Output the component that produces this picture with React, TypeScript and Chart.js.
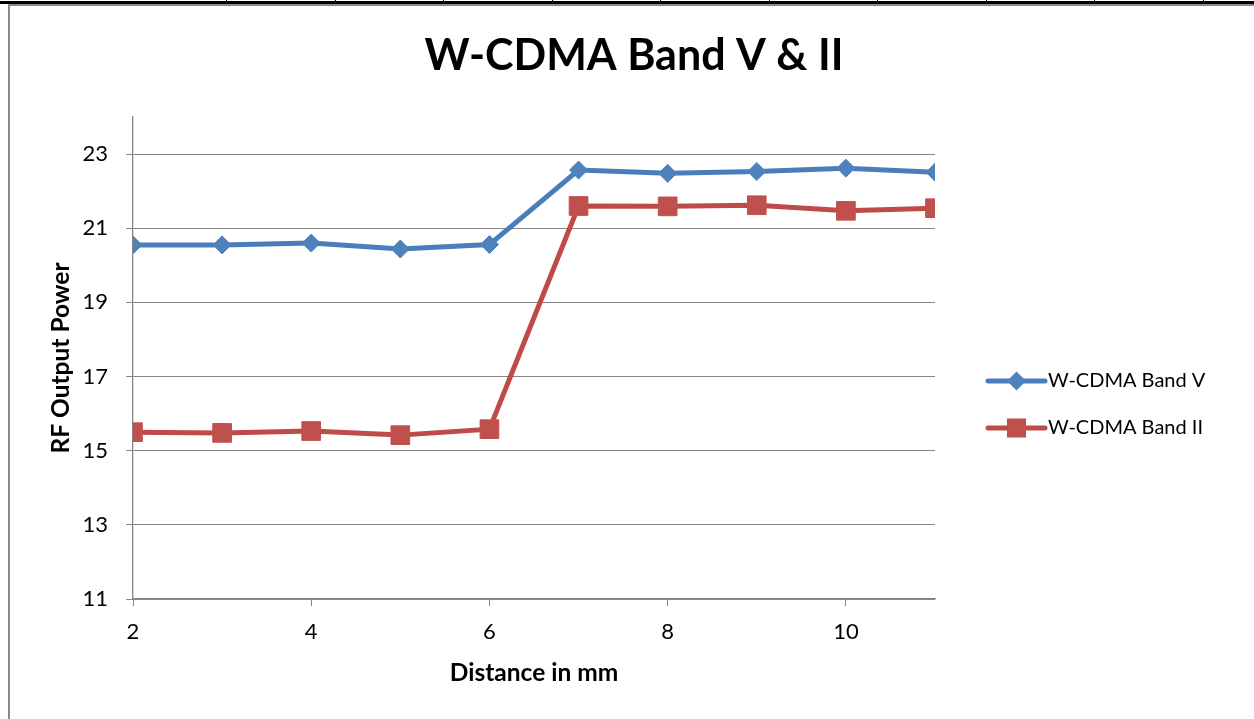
import React, { useEffect, useRef } from "react";
import { Chart, registerables } from "chart.js";

Chart.register(...registerables);

const TITLE = "W-CDMA Band V & II";
const X_TITLE = "Distance in mm";
const Y_TITLE = "RF Output Power";
const distances = [2, 3, 4, 5, 6, 7, 8, 9, 10, 11];
const bandV = [20.55, 20.55, 20.6, 20.44, 20.56, 22.57, 22.48, 22.53, 22.62, 22.51];
const bandII = [15.5, 15.48, 15.53, 15.42, 15.58, 21.6, 21.59, 21.62, 21.47, 21.54];
const seriesNames = ["W-CDMA Band V", "W-CDMA Band II"];
const xTicks = [2, 4, 6, 8, 10];
const yTicks = [11, 13, 15, 17, 19, 21, 23];
const topTicks = [226, 335, 443, 552, 660, 769, 877, 986, 1094, 1203];

const FONT = "Lato, 'Open Sans', sans-serif";
const BLUE_LINE = "#4A7EBB";
const BLUE_MARK = "#4F81BD";
const RED_LINE = "#BE4B48";
const RED_MARK = "#C0504D";
const GRID = "#868686";

function drawMarker(ctx: CanvasRenderingContext2D, style: string, x: number, y: number, r: number, color: string) {
  ctx.fillStyle = color;
  ctx.beginPath();
  if (style === "rectRot") {
    ctx.moveTo(x - r, y);
    ctx.lineTo(x, y - r);
    ctx.lineTo(x + r, y);
    ctx.lineTo(x, y + r);
  } else {
    const s = r * Math.SQRT1_2;
    ctx.rect(x - s, y - s, 2 * s, 2 * s);
  }
  ctx.closePath();
  ctx.fill();
}

const overlay = {
  id: "overlay",
  afterDraw(chart: any) {
    const ctx = chart.ctx as CanvasRenderingContext2D;
    ctx.save();
    ctx.fillStyle = "#000";
    ctx.font = `bold 43px ${FONT}`;
    ctx.textAlign = "center";
    ctx.textBaseline = "middle";
    ctx.fillText(TITLE, 624, 50);

    const lx0 = 978;
    const lx1 = 1035;
    const ly0 = 375;
    const gap = 47;
    chart.data.datasets.forEach((ds: any, i: number) => {
      const y = ly0 + i * gap;
      ctx.strokeStyle = ds.borderColor;
      ctx.lineWidth = 5;
      ctx.lineCap = "round";
      ctx.beginPath();
      ctx.moveTo(lx0, y);
      ctx.lineTo(lx1, y);
      ctx.stroke();
      drawMarker(ctx, ds.pointStyle, (lx0 + lx1) / 2, y, ds.pointStyle === "rectRot" ? 9.5 : 13.5, ds.pointBackgroundColor);
      ctx.fillStyle = "#000";
      ctx.font = `20px ${FONT}`;
      ctx.textAlign = "left";
      ctx.textBaseline = "middle";
      ctx.fillText(ds.label, lx1 + 3, y);
    });
    ctx.restore();
  },
};

export default function App() {
  const ref = useRef<HTMLCanvasElement>(null);
  useEffect(() => {
    if (!ref.current) return;
    const chart = new Chart(ref.current, {
      type: "line",
      data: {
        labels: distances,
        datasets: [
          {
            label: seriesNames[0],
            data: distances.map((d, i) => ({ x: d, y: bandV[i] })),
            borderColor: BLUE_LINE,
            backgroundColor: BLUE_MARK,
            pointBackgroundColor: BLUE_MARK,
            pointBorderColor: BLUE_MARK,
            pointStyle: "rectRot",
            pointRadius: 9,
            pointBorderWidth: 1,
            borderWidth: 5,
            tension: 0,
          },
          {
            label: seriesNames[1],
            data: distances.map((d, i) => ({ x: d, y: bandII[i] })),
            borderColor: RED_LINE,
            backgroundColor: RED_MARK,
            pointBackgroundColor: RED_MARK,
            pointBorderColor: RED_MARK,
            pointStyle: "rect",
            pointRadius: 13.2,
            pointBorderWidth: 1,
            borderWidth: 5,
            tension: 0,
          },
        ],
      },
      options: {
        animation: false,
        responsive: false,
        layout: { padding: { top: 111, right: 319, left: 0, bottom: 0 } },
        plugins: { legend: { display: false }, title: { display: false }, tooltip: { enabled: false } },
        scales: {
          x: {
            type: "linear",
            min: 2,
            max: 11,
            afterBuildTicks: (s: any) => {
              s.ticks = xTicks.map((v) => ({ value: v }));
            },
            afterFit: (s: any) => {
              s.height = 120;
            },
            grid: { drawOnChartArea: false, drawTicks: true, tickLength: 7, color: GRID, lineWidth: 1 },
            border: { color: GRID, width: 1.3 },
            ticks: { color: "#000", font: { family: FONT, size: 22 }, padding: 13, maxRotation: 0 },
            title: { display: true, text: X_TITLE, color: "#000", font: { family: FONT, size: 24.5, weight: "bold" }, padding: { top: 0, bottom: 31 } },
          },
          y: {
            type: "linear",
            min: 11,
            max: 24,
            afterBuildTicks: (s: any) => {
              s.ticks = yTicks.map((v) => ({ value: v }));
            },
            afterFit: (s: any) => {
              s.width = 123;
            },
            grid: { color: GRID, tickLength: 7, lineWidth: 1 },
            border: { color: GRID, width: 1.3 },
            ticks: { color: "#000", font: { family: FONT, size: 22 }, padding: 18 },
            title: { display: true, text: Y_TITLE, color: "#000", font: { family: FONT, size: 24.5, weight: "bold" }, padding: { top: 36, bottom: 0 } },
          },
        },
      },
      plugins: [overlay],
    });
    return () => chart.destroy();
  }, []);

  return (
    <div style={{ position: "fixed", left: 0, top: 0, width: 1254, height: 719, overflow: "hidden", background: "#fff" }}>
      <div style={{ position: "absolute", left: 0, top: 1, width: 1254, height: 3, background: "#000" }} />
      {topTicks.map((x) => (
        <div key={x} style={{ position: "absolute", left: x, top: 0, width: 1, height: 5, background: "#000" }} />
      ))}
      <div
        style={{
          position: "absolute",
          left: 8,
          top: 4,
          width: 1400,
          height: 900,
          borderLeft: "2px solid #898989",
          borderTop: "2px solid #898989",
        }}
      />
      <canvas ref={ref} width={1244} height={713} style={{ position: "absolute", left: 10, top: 6, width: 1244, height: 713 }} />
    </div>
  );
}
